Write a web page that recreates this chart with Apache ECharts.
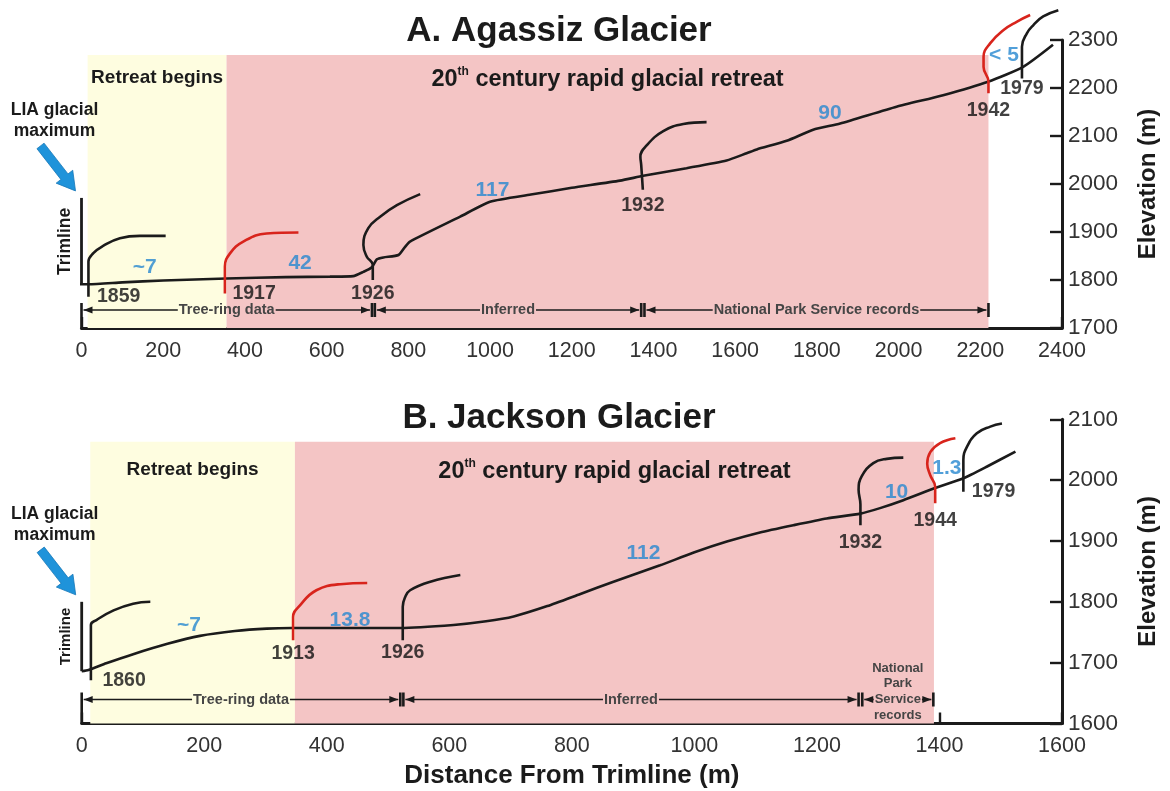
<!DOCTYPE html>
<html>
<head>
<meta charset="utf-8">
<script src="https://cdn.jsdelivr.net/npm/echarts@6/dist/echarts.min.js"></script>
<style>
  html, body { margin: 0; padding: 0; background: #ffffff; }
  #chart { width: 1170px; height: 791px; }
</style>
</head>
<body>
<div id="chart"></div>
<script>
// ---------- A. Agassiz Glacier: distance (m) / elevation (m) ----------
const agassizProfile = [
  [-106, 1791], [-24, 1791], [-21, 1797], [-12, 1797], [-8, 1791], [17, 1791],
  [100, 1795], [200, 1799], [355, 1803], [500, 1806], [608, 1807], [665, 1808],
  [690, 1817], [710, 1826], [723, 1843], [739, 1847], [776, 1852], [792, 1869],
  [804, 1880], [927, 1932], [1000, 1963], [1100, 1978], [1200, 1992], [1318, 2007],
  [1375, 2017], [1481, 2033], [1579, 2049], [1628, 2064], [1653, 2072], [1726, 2090],
  [1791, 2113], [1857, 2126], [1995, 2161], [2109, 2185], [2219, 2213], [2305, 2244],
  [2378, 2290]
];
const agassizTrimline = [[0, 1790], [0, 1971]];
const agassizYears = ['1859', '1917', '1926', '1932', '1942', '1979'];
const agassizFront1859 = [[17, 1765], [17, 1838], [29, 1856], [53, 1871], [94, 1887], [143, 1892], [206, 1892]];
const agassizFront1917 = [[351, 1772], [351, 1828], [364, 1856], [396, 1880], [453, 1897], [531, 1899]];
const agassizFront1926 = [[713, 1800], [713, 1831], [698, 1849], [690, 1873], [702, 1908], [731, 1932], [772, 1956], [829, 1979]];
const agassizFront1932 = [[1374, 1988], [1370, 2040], [1368, 2057], [1384, 2081], [1424, 2110], [1473, 2125], [1530, 2129]];
const agassizFront1942 = [[2220, 2189], [2220, 2213], [2208, 2244], [2208, 2265], [2224, 2293], [2257, 2321], [2289, 2338], [2322, 2352]];
const agassizFront1979 = [[2302, 2220], [2302, 2286], [2314, 2314], [2330, 2331], [2354, 2349], [2391, 2362]];
const agassizRateText = ['~7', '42', '117', '90', '< 5'];
const agassizRateAt = [[155, 1827], [535, 1835], [1006, 1988], [1832, 2148], [2258, 2269]];
const agassizPeriodNames = ['Retreat begins', '20th century rapid glacial retreat'];
const agassizPeriodSpans = [[15, 355], [355, 2220]];
const agassizPeriodTop = 2269;
const agassizRecordNames = ['Tree-ring data', 'Inferred', 'National Park Service records'];
const agassizRecordSpans = [[0, 711], [718, 1370], [1378, 2220]];

// ---------- B. Jackson Glacier ----------
const jacksonProfile = [
  [0, 1686], [11, 1688], [40, 1699], [84, 1714], [140, 1731], [193, 1744],
  [250, 1752], [302, 1756], [343, 1757], [450, 1757], [520, 1757], [607, 1762],
  [660, 1768], [705, 1776], [760, 1793], [814, 1813], [868, 1833], [944, 1860],
  [999, 1881], [1053, 1899], [1107, 1914], [1162, 1926], [1216, 1937], [1271, 1945],
  [1303, 1954], [1341, 1967], [1393, 1987], [1439, 2003], [1477, 2022], [1524, 2047]
];
const jacksonTrimline = [[0, 1686], [0, 1800]];
const jacksonYears = ['1860', '1913', '1926', '1932', '1944', '1979'];
const jacksonFront1860 = [[15, 1671], [15, 1762], [24, 1770], [52, 1786], [84, 1797], [112, 1800]];
const jacksonFront1913 = [[345, 1737], [345, 1775], [357, 1795], [383, 1819], [422, 1829], [466, 1831]];
const jacksonFront1926 = [[524, 1737], [524, 1792], [528, 1808], [536, 1819], [569, 1833], [618, 1844]];
const jacksonFront1932 = [[1271, 1926], [1271, 1960], [1268, 1984], [1273, 2006], [1292, 2028], [1314, 2035], [1341, 2037]];
const jacksonFront1944 = [[1393, 1962], [1393, 1989], [1385, 2008], [1380, 2027], [1385, 2046], [1401, 2061], [1426, 2069]];
const jacksonFront1979 = [[1439, 1981], [1439, 2033], [1445, 2055], [1461, 2077], [1483, 2088], [1502, 2093]];
const jacksonRateText = ['~7', '13.8', '112', '10', '1.3'];
const jacksonRateAt = [[175, 1762], [438, 1770], [917, 1880], [1330, 1980], [1412, 2020]];
const jacksonPeriodNames = ['Retreat begins', '20th century rapid glacial retreat'];
const jacksonPeriodSpans = [[14, 348], [348, 1391]];
const jacksonPeriodTop = 2063;
const jacksonRecordNames = ['Tree-ring data', 'Inferred', 'National\nPark\nService\nrecords'];
const jacksonRecordSpans = [[0, 520], [525, 1268], [1274, 1390]];

// ---------- styling ----------
const FONT = '"Liberation Sans", Arial, Helvetica, sans-serif';
const INK = '#1b1b1b';
const RED = '#d8241c';
const BLUE = '#2687cf';
const YELLOW = '#fefde0';
const PINK = '#f4c5c5';

const panels = [
  {
    title: 'A. Agassiz Glacier', titleTop: 9,
    grid: { left: 81.5, right: 108, top: 40, bottom: 463 },
    xMax: 2400, yMin: 1700, yMax: 2300, xName: '',
    profile: agassizProfile, trimline: agassizTrimline,
    years: agassizYears,
    fronts: [agassizFront1859, agassizFront1917, agassizFront1926, agassizFront1932, agassizFront1942, agassizFront1979],
    redYears: ['1917', '1942'],
    yearSide: ['right', 'right', 'bottom', 'bottom', 'bottom', 'bottom'],
    yearGap: [8, 7, 3, 5, 7, 0],
    rateText: agassizRateText, rateAt: agassizRateAt,
    periodNames: agassizPeriodNames, periodSpans: agassizPeriodSpans, periodTop: agassizPeriodTop,
    periodLabelGap: [13, 11],
    recordNames: agassizRecordNames, recordSpans: agassizRecordSpans,
    recordRow: [0, 0, 0], recordSize: [14.5, 14.5, 14.5],
    bracketLift: 18, trimFont: 17.5
  },
  {
    title: 'B. Jackson Glacier', titleTop: 396,
    grid: { left: 81.7, right: 108, top: 419.3, bottom: 67.5 },
    xMax: 1600, yMin: 1600, yMax: 2100, xName: 'Distance From Trimline (m)',
    profile: jacksonProfile, trimline: jacksonTrimline,
    years: jacksonYears,
    fronts: [jacksonFront1860, jacksonFront1913, jacksonFront1926, jacksonFront1932, jacksonFront1944, jacksonFront1979],
    redYears: ['1913', '1944'],
    yearSide: ['right', 'bottom', 'bottom', 'bottom', 'bottom', 'right'],
    yearGap: [11, 3, 2, 7, 7, 8],
    rateText: jacksonRateText, rateAt: jacksonRateAt,
    periodNames: jacksonPeriodNames, periodSpans: jacksonPeriodSpans, periodTop: jacksonPeriodTop,
    periodLabelGap: [18, 16],
    recordNames: jacksonRecordNames, recordSpans: jacksonRecordSpans,
    recordRow: [0, 0, 2], recordSize: [14.5, 14.5, 13],
    bracketLift: 24, trimFont: 15
  }
];

const measureCtx = document.createElement('canvas').getContext('2d');
function textWidth(text, font) {
  measureCtx.font = font;
  return measureCtx.measureText(text).width;
}

// Record-source brackets (|<-- label -->|) drawn just above the distance axis
function bracketRenderer(p) {
  return function (params, api) {
    const i = params.dataIndex;
    const s = api.value(0), e = api.value(1);
    const base = api.coord([0, p.yMin])[1];
    const y = base - p.bracketLift;
    const x1 = api.coord([s, p.yMin])[0];
    const x2 = api.coord([e, p.yMin])[0];
    const text = p.recordNames[i];
    const lines = text.split('\n');
    const row = p.recordRow[i];
    const size = p.recordSize[i];
    const lh = size * 1.2;
    const font = 'bold ' + size + 'px ' + FONT;
    const gap = textWidth(lines[row], font) + 2;
    const cx = (x1 + x2) / 2;
    const head = 9, half = 3.6;
    const kids = [];
    const segs = [[x1 + 2, cx - gap / 2], [cx + gap / 2, x2 - 2]];
    segs.forEach(function (sg) {
      if (sg[1] > sg[0]) {
        kids.push({ type: 'line', shape: { x1: sg[0], y1: y, x2: sg[1], y2: y },
          style: { stroke: INK, lineWidth: 1.6 } });
      }
    });
    kids.push({ type: 'polygon', shape: { points: [[x1 + 2, y], [x1 + 2 + head, y - half], [x1 + 2 + head, y + half]] },
      style: { fill: INK } });
    kids.push({ type: 'polygon', shape: { points: [[x2 - 2, y], [x2 - 2 - head, y - half], [x2 - 2 - head, y + half]] },
      style: { fill: INK } });
    kids.push({ type: 'line', shape: { x1: x1, y1: y - 7, x2: x1, y2: s === 0 ? base : y + 7 },
      style: { stroke: INK, lineWidth: 2.6 } });
    kids.push({ type: 'line', shape: { x1: x2, y1: y - 7, x2: x2, y2: y + 7 },
      style: { stroke: INK, lineWidth: 2.6 } });
    const cy = y - (row - (lines.length - 1) / 2) * lh;
    kids.push({ type: 'text', x: cx, y: cy,
      style: { text: text, font: font, fill: '#454545', align: 'center', verticalAlign: 'middle', lineHeight: lh } });
    return { type: 'group', children: kids };
  };
}

// LIA arrow, its caption and the vertical "Trimline" caption, hung on the trimline mark
function trimlineNoteRenderer(p) {
  return function (params, api) {
    const top = api.coord([api.value(0), api.value(2)]);
    const bot = api.coord([api.value(0), api.value(1)]);
    const tip = [top[0] - 6, top[1] - 7];
    const tail = [top[0] - 41, top[1] - 52];
    const dx = tip[0] - tail[0], dy = tip[1] - tail[1];
    const len = Math.sqrt(dx * dx + dy * dy);
    const ux = dx / len, uy = dy / len, nx = -uy, ny = ux;
    const hl = 18, hw = 10.5, sw = 4.5;
    const hb = [tip[0] - ux * hl, tip[1] - uy * hl];
    const pts = [
      [tail[0] + nx * sw, tail[1] + ny * sw],
      [hb[0] + nx * sw, hb[1] + ny * sw],
      [hb[0] + nx * hw, hb[1] + ny * hw],
      tip,
      [hb[0] - nx * hw, hb[1] - ny * hw],
      [hb[0] - nx * sw, hb[1] - ny * sw],
      [tail[0] - nx * sw, tail[1] - ny * sw]
    ];
    return {
      type: 'group',
      children: [
        { type: 'polygon', shape: { points: pts }, style: { fill: '#1f93da', stroke: '#1677b8', lineWidth: 0.8 } },
        { type: 'text', x: top[0] - 27, y: top[1] - 77,
          style: { text: 'LIA glacial\nmaximum', font: 'bold 17.5px ' + FONT, fill: INK,
            align: 'center', verticalAlign: 'middle', lineHeight: 21 } },
        { type: 'text', x: top[0] - 16, y: (top[1] + bot[1]) / 2, rotation: Math.PI / 2,
          style: { text: 'Trimline', font: 'bold ' + p.trimFont + 'px ' + FONT, fill: INK,
            align: 'center', verticalAlign: 'middle' } }
      ]
    };
  };
}

const plainNumber = function (v) { return String(v); };

const option = {
  animation: false,
  backgroundColor: '#ffffff',
  textStyle: { fontFamily: FONT },
  title: panels.map(function (p) {
    return { text: p.title, left: 554, top: p.titleTop, textAlign: 'center',
      textStyle: { fontFamily: FONT, fontSize: 35, fontWeight: 'bold', color: INK } };
  }),
  grid: panels.map(function (p) { return Object.assign({ containLabel: false }, p.grid); }),
  xAxis: panels.map(function (p, k) {
    return {
      type: 'value', gridIndex: k, min: 0, max: p.xMax, interval: 200,
      position: 'bottom',
      name: p.xName, nameLocation: 'middle', nameGap: 39,
      nameTextStyle: { fontFamily: FONT, fontSize: 26, fontWeight: 'bold', color: INK },
      axisLine: { onZero: false, lineStyle: { color: INK, width: 3 } },
      axisTick: { inside: true, length: 11, lineStyle: { color: INK, width: 2.4 } },
      axisLabel: { fontFamily: FONT, fontSize: 21.5, color: '#333', margin: 12, formatter: plainNumber },
      splitLine: { show: false }
    };
  }),
  yAxis: panels.map(function (p, k) {
    return {
      type: 'value', gridIndex: k, min: p.yMin, max: p.yMax, interval: 100,
      position: 'right',
      name: 'Elevation (m)', nameLocation: 'middle', nameGap: 74, nameRotate: 90,
      nameTextStyle: { fontFamily: FONT, fontSize: 24, fontWeight: 'bold', color: INK },
      axisLine: { onZero: false, lineStyle: { color: INK, width: 3 } },
      axisTick: { inside: true, length: 12, lineStyle: { color: INK, width: 2.4 } },
      axisLabel: { fontFamily: FONT, fontSize: 22.5, color: '#333', margin: 6, formatter: plainNumber },
      splitLine: { show: false }
    };
  }),
  series: []
};

panels.forEach(function (p, k) {
  const onAxes = { xAxisIndex: k, yAxisIndex: k };
  const periodColors = [YELLOW, PINK];
  const periodFont = [19, 23.5];

  // shaded retreat periods
  option.series.push(Object.assign({
    type: 'line', data: p.profile, symbol: 'none', silent: true, z: 1,
    lineStyle: { opacity: 0 },
    markArea: {
      silent: true,
      data: p.periodSpans.map(function (sp, i) {
        const isCentury = p.periodNames[i].indexOf('20th') === 0;
        const fs = periodFont[i];
        return [
          { xAxis: sp[0], yAxis: p.yMin, name: p.periodNames[i],
            itemStyle: { color: periodColors[i], opacity: 1 },
            label: {
              show: true, position: 'insideTop', distance: p.periodLabelGap[i],
              formatter: isCentury ? '{n|20}{s|th}{n|' + p.periodNames[i].slice(4) + '}' : p.periodNames[i],
              fontFamily: FONT, fontSize: fs, fontWeight: 'bold', color: INK,
              rich: {
                n: { fontFamily: FONT, fontSize: fs, fontWeight: 'bold', color: INK, lineHeight: fs + 3 },
                s: { fontFamily: FONT, fontSize: 12, fontWeight: 'bold', color: INK, verticalAlign: 'top', lineHeight: fs + 3 }
              }
            } },
          { xAxis: sp[1], yAxis: p.periodTop }
        ];
      })
    }
  }, onAxes));

  // record-source brackets
  option.series.push(Object.assign({
    type: 'custom', z: 2, silent: true, clip: false,
    data: p.recordSpans,
    encode: { x: [0, 1] },
    renderItem: bracketRenderer(p)
  }, onAxes));

  // glacier surface profile
  option.series.push(Object.assign({
    type: 'line', data: p.profile, symbol: 'none', smooth: 0.2, clip: false, z: 3, silent: true,
    lineStyle: { color: INK, width: 2.6 }
  }, onAxes));

  // trimline
  option.series.push(Object.assign({
    type: 'line', data: p.trimline, symbol: 'none', clip: false, z: 3, silent: true,
    lineStyle: { color: INK, width: 2.8 }
  }, onAxes));

  // terminus positions
  p.fronts.forEach(function (front, i) {
    const red = p.redYears.indexOf(p.years[i]) >= 0;
    option.series.push(Object.assign({
      type: 'line', data: front, symbol: 'none', smooth: 0.45, clip: false, z: 3, silent: true,
      lineStyle: { color: red ? RED : INK, width: 2.6 }
    }, onAxes));
  });

  // year labels at the foot of each terminus mark
  option.series.push(Object.assign({
    type: 'scatter', symbolSize: 1, itemStyle: { color: 'rgba(0,0,0,0)' }, z: 4, silent: true, clip: false,
    data: p.fronts.map(function (front, i) {
      return {
        value: front[0],
        label: {
          show: true, formatter: p.years[i], position: p.yearSide[i], distance: p.yearGap[i],
          fontFamily: FONT, fontSize: 19.5, fontWeight: 'bold', color: '#111'
        }
      };
    })
  }, onAxes));

  // retreat rates (m / yr)
  option.series.push(Object.assign({
    type: 'scatter', symbolSize: 1, itemStyle: { color: 'rgba(0,0,0,0)' }, z: 4, silent: true, clip: false,
    data: p.rateAt.map(function (pt, i) {
      return {
        value: pt,
        label: {
          show: true, formatter: p.rateText[i], position: 'inside',
          fontFamily: FONT, fontSize: 21, fontWeight: 'bold', color: BLUE
        }
      };
    })
  }, onAxes));

  // LIA arrow + trimline caption
  option.series.push(Object.assign({
    type: 'custom', z: 4, silent: true, clip: false,
    data: [[p.trimline[0][0], p.trimline[0][1], p.trimline[1][1]]],
    encode: { x: 0, y: [1, 2] },
    renderItem: trimlineNoteRenderer(p)
  }, onAxes));
});

const chart = echarts.init(document.getElementById('chart'), null, { renderer: 'canvas' });
chart.setOption(option);
</script>
</body>
</html>
